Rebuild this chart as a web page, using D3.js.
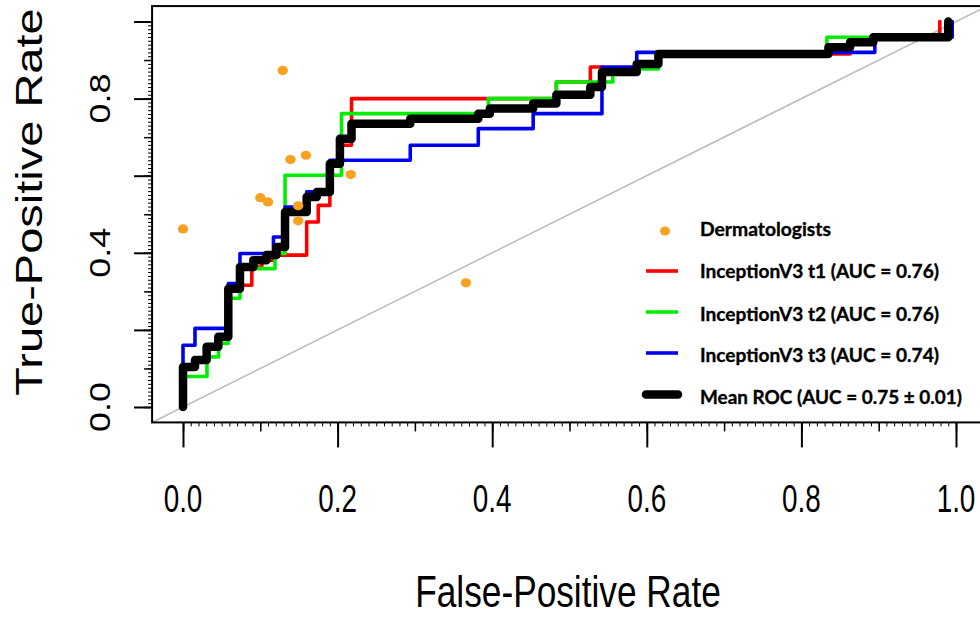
<!DOCTYPE html>
<html><head><meta charset="utf-8">
<script src="https://cdn.jsdelivr.net/npm/d3@7"></script>
<style>body{margin:0;background:#fff}</style>
</head><body>
<svg id="c" width="980" height="617"></svg>
<script>
// ---- data ----
const xMajor = [0, 0.2, 0.4, 0.6, 0.8, 1.0];
const xLabels = ["0.0", "0.2", "0.4", "0.6", "0.8", "1.0"];
const yMajor = [0, 0.2, 0.4, 0.6, 0.8, 1.0];
const yLabelValues = [0, 0.4, 0.8];
const yLabels = ["0.0", "0.4", "0.8"];

// ROC vertices (fpr where the step occurs, tpr level after the step)
const t1Fpr = [0, 0, 0.0155, 0.0306, 0.0457, 0.0586, 0.089, 0.102, 0.117, 0.160, 0.175, 0.190, 0.203, 0.218, 0.483, 0.527, 0.542, 0.587, 0.615, 0.863, 0.893, 0.979];
const t1Tpr = [0, 0.104, 0.122, 0.156, 0.182, 0.316, 0.363, 0.381, 0.394, 0.480, 0.523, 0.630, 0.679, 0.800, 0.843, 0.882, 0.869, 0.890, 0.916, 0.946, 0.959, 1.0];

const t2Fpr = [0, 0, 0.031, 0.046, 0.0586, 0.0737, 0.119, 0.132, 0.205, 0.395, 0.483, 0.556, 0.615, 0.833, 0.995];
const t2Tpr = [0, 0.079, 0.130, 0.165, 0.282, 0.359, 0.398, 0.601, 0.761, 0.800, 0.843, 0.877, 0.916, 0.959, 1.0];

const t3Fpr = [0, 0, 0.0155, 0.0586, 0.0737, 0.117, 0.132, 0.160, 0.190, 0.294, 0.382, 0.453, 0.542, 0.587, 0.895, 0.995];
const t3Tpr = [0, 0.160, 0.204, 0.320, 0.398, 0.441, 0.519, 0.558, 0.640, 0.679, 0.722, 0.761, 0.882, 0.920, 0.959, 1.0];

const meanFpr = [0, 0, 0.0155, 0.0306, 0.0457, 0.0586, 0.0737, 0.091, 0.108, 0.121, 0.132, 0.160, 0.173, 0.190, 0.203, 0.218, 0.294, 0.382, 0.397, 0.453, 0.483, 0.527, 0.542, 0.587, 0.615, 0.835, 0.863, 0.893, 0.990];
const meanTpr = [0, 0.104, 0.122, 0.156, 0.182, 0.307, 0.363, 0.381, 0.394, 0.415, 0.506, 0.545, 0.558, 0.631, 0.696, 0.735, 0.748, 0.761, 0.774, 0.787, 0.810, 0.830, 0.869, 0.890, 0.916, 0.933, 0.946, 0.959, 1.0];

const dermFpr = [0.129, 0.139, 0.159, 0.217, 0.100, 0.110, 0.149, 0.149, 0.0, 0.366];
const dermTpr = [0.873, 0.642, 0.653, 0.603, 0.543, 0.532, 0.522, 0.483, 0.462, 0.322];

const seriesNames = ["InceptionV3 t1 (AUC = 0.76)", "InceptionV3 t2 (AUC = 0.76)", "InceptionV3 t3 (AUC = 0.74)", "Mean ROC (AUC = 0.75 \u00b1 0.01)"];
const dermName = "Dermatologists";

// ---- drawing ----
const svg = d3.select("#c");
svg.append("rect").attr("width", 980).attr("height", 617).attr("fill", "#fff");

const x = d3.scaleLinear().domain([0, 1]).range([183, 956]);
const y = d3.scaleLinear().domain([0, 1]).range([407, 21.5]);
const x0 = x(-0.04), x1 = x(1.04), y0 = y(-0.04), y1 = y(1.04);

svg.append("clipPath").attr("id", "plotclip").append("rect")
  .attr("x", x0).attr("y", y1).attr("width", x1 - x0).attr("height", y0 - y1);

const plot = svg.append("g").attr("clip-path", "url(#plotclip)");

// diagonal
plot.append("line")
  .attr("x1", x(-0.04)).attr("y1", y(-0.04)).attr("x2", x(1.04)).attr("y2", y(1.04))
  .attr("stroke", "#bebebe").attr("stroke-width", 1.6);

const line = d3.line().x(d => x(d[0])).y(d => y(d[1])).curve(d3.curveStepAfter);
const curves = [
  {fpr: t1Fpr, tpr: t1Tpr, color: "#ff0000", w: 3.6},
  {fpr: t2Fpr, tpr: t2Tpr, color: "#00ee00", w: 3.6},
  {fpr: t3Fpr, tpr: t3Tpr, color: "#0000ee", w: 3.6},
  {fpr: meanFpr, tpr: meanTpr, color: "#000000", w: 8.5}
];
curves.forEach(c => {
  plot.append("path")
    .attr("d", line(c.fpr.map((f, i) => [f, c.tpr[i]])))
    .attr("fill", "none").attr("stroke", c.color).attr("stroke-width", c.w)
    .attr("stroke-linejoin", "round").attr("stroke-linecap", "round");
});

plot.selectAll("ellipse.derm").data(dermFpr.map((f, i) => [f, dermTpr[i]]))
  .enter().append("ellipse").attr("class", "derm")
  .attr("cx", d => x(d[0])).attr("cy", d => y(d[1]))
  .attr("rx", 5.2).attr("ry", 4.6).attr("fill", "#f6a21e");

// box
svg.append("rect").attr("x", x0).attr("y", y1).attr("width", x1 - x0).attr("height", y0 - y1)
  .attr("fill", "none").attr("stroke", "#000").attr("stroke-width", 2);

// axis ticks
const xMinor = d3.range(0, 101).map(i => i / 100);
const xMid = d3.range(0, 11).map(i => i / 10);
function tickAxis(axisFn, scale, vals, size, sw, transform) {
  const g = svg.append("g").attr("transform", transform)
    .call(axisFn(scale).tickValues(vals).tickSize(size).tickFormat(""));
  g.select(".domain").remove();
  g.selectAll(".tick line").attr("stroke", "#000").attr("stroke-width", sw);
  return g;
}
tickAxis(d3.axisBottom, x, xMinor, 4, 1, `translate(0,${y0})`);
tickAxis(d3.axisBottom, x, xMid, 9, 1.5, `translate(0,${y0})`);
tickAxis(d3.axisBottom, x, xMajor, 25, 2, `translate(0,${y0})`);

tickAxis(d3.axisLeft, y, xMinor, 4, 1, `translate(${x0},0)`);
tickAxis(d3.axisLeft, y, xMid, 8, 1.5, `translate(${x0},0)`);
tickAxis(d3.axisLeft, y, yMajor, 18, 2, `translate(${x0},0)`);

const sansFont = "'Liberation Sans',Arial,sans-serif";

// x labels (narrow look via horizontal squeeze)
svg.selectAll("text.xl").data(xMajor).enter().append("text").attr("class", "xl")
  .attr("transform", d => `translate(${x(d)},512) scale(0.82,1.15)`)
  .attr("text-anchor", "middle")
  .attr("font-family", sansFont)
  .attr("font-size", 34).attr("fill", "#000")
  .text((d, i) => xLabels[i]);

// y labels
svg.selectAll("text.yl").data(yLabelValues).enter().append("text").attr("class", "yl")
  .attr("transform", d => `translate(110,${y(d)}) rotate(-90) scale(1.24,1)`)
  .attr("text-anchor", "middle")
  .attr("font-family", sansFont)
  .attr("font-size", 29).attr("fill", "#000")
  .text((d, i) => yLabels[i]);

// axis titles
svg.append("text").attr("transform", "translate(568,607) scale(0.82,1.02)").attr("text-anchor", "middle")
  .attr("font-family", sansFont)
  .attr("font-size", 43).attr("fill", "#000").text("False-Positive Rate");
svg.append("text").attr("transform", "translate(42,202) rotate(-90) scale(1.27,1)")
  .attr("text-anchor", "middle")
  .attr("font-family", sansFont)
  .attr("font-size", 37).attr("fill", "#000").text("True-Positive Rate");

// legend
const leg = svg.append("g");
const legFont = "Lato, 'Open Sans', sans-serif";
function legText(xp, yp, len, txt) {
  leg.append("text").attr("x", xp).attr("y", yp).attr("font-family", legFont).attr("font-weight", "bold")
    .attr("font-size", 19.5).attr("textLength", len).attr("lengthAdjust", "spacingAndGlyphs")
    .attr("fill", "#000").attr("stroke", "#000").attr("stroke-width", 0.35).text(txt);
}
leg.append("ellipse").attr("cx", 665).attr("cy", 231).attr("rx", 5).attr("ry", 4.6).attr("fill", "#f6a21e");
legText(700, 236, 131, dermName);
const legY = [271, 312, 353, 394.5];
const legBase = [278, 320.5, 362, 404];
const legLen = [239, 239, 239, 262];
curves.forEach((c, i) => {
  leg.append("line").attr("x1", 646).attr("x2", 678).attr("y1", legY[i]).attr("y2", legY[i])
    .attr("stroke", c.color).attr("stroke-width", i === 3 ? 8.5 : 3.6)
    .attr("stroke-linecap", i === 3 ? "round" : "butt");
  legText(700, legBase[i], legLen[i], seriesNames[i]);
});
</script>
</body></html>
